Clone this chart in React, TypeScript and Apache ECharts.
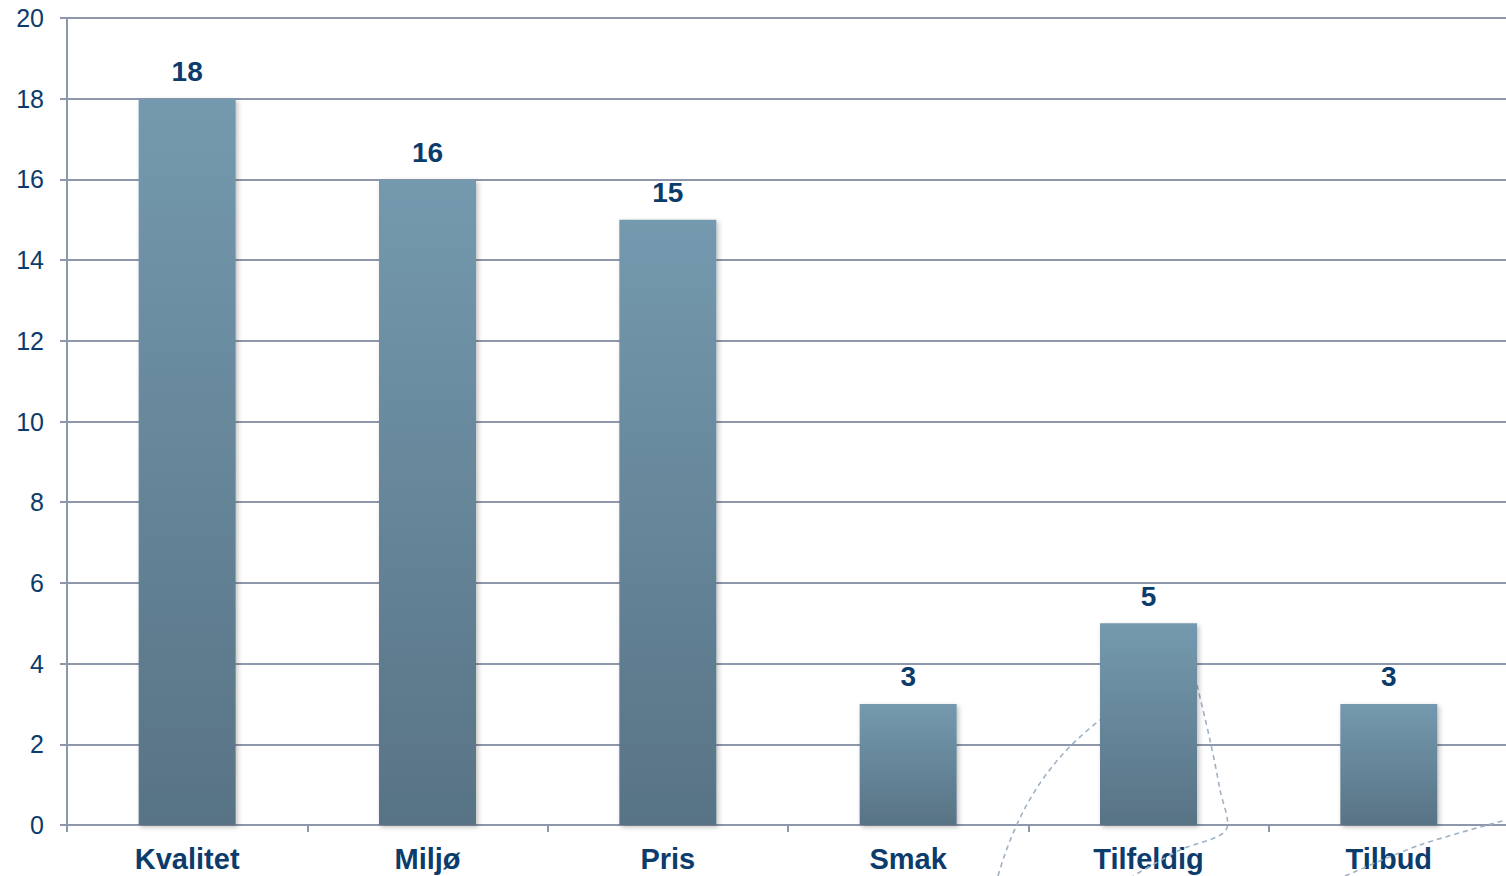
import React, { useEffect, useRef } from "react";
import * as echarts from "echarts";

const categories = ["Kvalitet", "Miljø", "Pris", "Smak", "Tilfeldig", "Tilbud"];
const values = [18, 16, 15, 3, 5, 3];
const yTicks = { min: 0, max: 20, interval: 2 };

const textColor = "#0b3c6b";
const gridColor = "#8e97ab";
const dashColor = "#9fb1c4";

export default function App() {
  const ref = useRef<HTMLDivElement>(null);
  useEffect(() => {
    document.body.style.margin = "0";
    document.body.style.overflow = "hidden";
    const chart = echarts.init(ref.current!, null, { renderer: "svg" });
    const dashStyle = { stroke: dashColor, lineWidth: 1.6, lineDash: [5, 4], fill: null };
    chart.setOption({
      animation: false,
      backgroundColor: "#ffffff",
      grid: { left: 67, width: 1442, top: 18, bottom: 51, containLabel: false },
      xAxis: {
        type: "category",
        data: categories,
        axisLine: { lineStyle: { color: gridColor, width: 2 } },
        axisTick: { show: true, length: 7, lineStyle: { color: gridColor, width: 2 } },
        axisLabel: {
          color: textColor,
          fontFamily: "Liberation Sans, Arial, sans-serif",
          fontWeight: "bold",
          fontSize: 29,
          margin: 19,
        },
      },
      yAxis: {
        type: "value",
        min: yTicks.min,
        max: yTicks.max,
        interval: yTicks.interval,
        axisLine: { show: true, lineStyle: { color: gridColor, width: 2 } },
        axisTick: { show: true, length: 7, lineStyle: { color: gridColor, width: 2 } },
        splitLine: { show: true, lineStyle: { color: gridColor, width: 2 } },
        axisLabel: {
          color: textColor,
          fontFamily: "Liberation Sans, Arial, sans-serif",
          fontSize: 25,
          margin: 23,
        },
      },
      series: [
        {
          type: "bar",
          data: values,
          barWidth: 97,
          itemStyle: {
            color: new echarts.graphic.LinearGradient(0, 0, 0, 1, [
              { offset: 0, color: "#7499ae" },
              { offset: 1, color: "#587385" },
            ]),
            shadowBlur: 5,
            shadowOffsetX: 2,
            shadowOffsetY: 2,
            shadowColor: "rgba(0,0,0,0.25)",
          },
          label: {
            show: true,
            position: "top",
            distance: 13,
            color: textColor,
            fontFamily: "Liberation Sans, Arial, sans-serif",
            fontWeight: "bold",
            fontSize: 28,
          },
          z: 3,
        },
      ],
      graphic: [
        {
          type: "bezierCurve",
          z: 1,
          silent: true,
          shape: { x1: 998, y1: 876, cpx1: 1020, cpy1: 800, cpx2: 1055, cpy2: 755, x2: 1100, y2: 720 },
          style: dashStyle,
        },
        {
          type: "polyline",
          z: 1,
          silent: true,
          shape: {
            points: [
              [1197, 685],
              [1210, 740],
              [1220, 790],
              [1226, 830],
              [1180, 850],
              [1133, 876],
            ],
            smooth: 0.3,
          },
          style: dashStyle,
        },
        {
          type: "polyline",
          z: 1,
          silent: true,
          shape: {
            points: [
              [1345, 876],
              [1420, 845],
              [1506, 820],
            ],
            smooth: 0.3,
          },
          style: dashStyle,
        },
      ],
    });
    return () => chart.dispose();
  }, []);
  return (
    <div style={{ position: "absolute", left: 0, top: 0, width: 1506, height: 876, overflow: "hidden" }}>
      <div ref={ref} style={{ position: "absolute", left: 0, top: 0, width: 1512, height: 876 }} />
    </div>
  );
}
